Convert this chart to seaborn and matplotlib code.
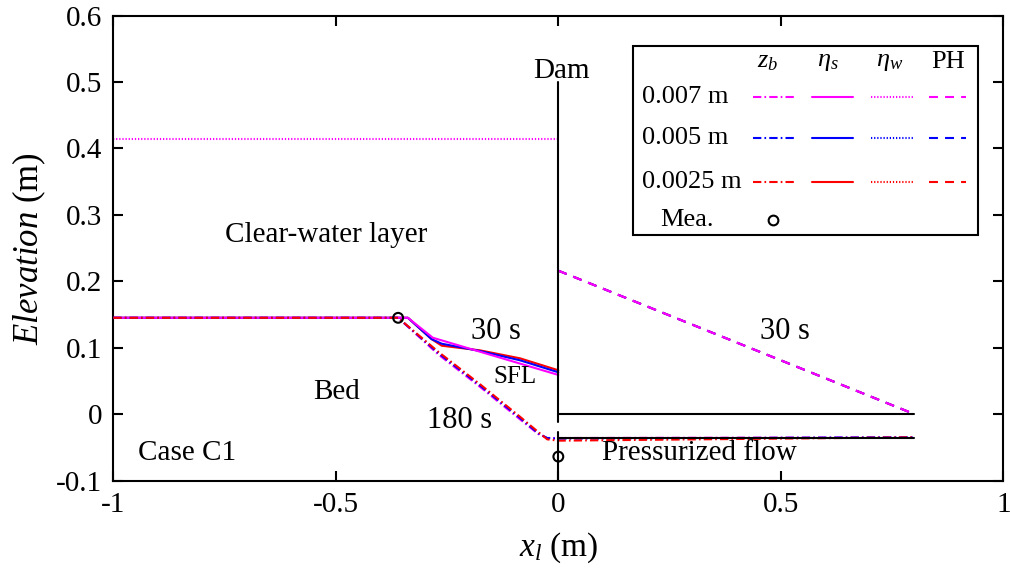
import numpy as np
import matplotlib
matplotlib.use("Agg")
import matplotlib.pyplot as plt
import seaborn as sns
from matplotlib.patches import Rectangle

# --- data (Case C1) ---
# free surface of the clear-water layer upstream
x_w = [-1.0, 0.0]
eta_w = [0.415, 0.415]

# bed z_b (180 s), one per particle size
x_zb = [-1.0, -0.36, -0.27, -0.176, -0.086, -0.045, -0.025, 0.0, 0.8]
zb_007 = [0.145, 0.145, 0.090, 0.041, -0.008, -0.030, -0.036, -0.036, -0.035]
zb_005 = [0.145, 0.145, 0.092, 0.043, -0.006, -0.029, -0.036, -0.037, -0.035]
zb_0025 = [0.145, 0.145, 0.094, 0.045, -0.004, -0.027, -0.038, -0.040, -0.035]

# sediment feeding layer surface eta_s (30 s)
x_s_007 = [-1.0, -0.338, -0.282, 0.0]
es_007 = [0.145, 0.145, 0.115, 0.059]
x_s = [-1.0, -0.338, -0.285, -0.262, -0.176, -0.086, 0.0]
es_005 = [0.145, 0.145, 0.113, 0.106, 0.095, 0.081, 0.063]
es_0025 = [0.145, 0.145, 0.113, 0.103, 0.096, 0.084, 0.066]

# piezometric head in the pressurized outlet
x_ph = [0.0, 0.8]
ph = [0.216, 0.0]

# dam and outlet geometry
dam_x = [0.0, 0.0]
dam_y = [0.5, -0.012]
dam_low_y = [-0.027, -0.1]
roof_x = [0.0, 0.8]
roof_y = [0.0, 0.0]
floor_y = [-0.036, -0.036]

# measurements
mea_x = [-0.36, 0.0]
mea_y = [0.145, -0.064]

sizes = ["0.007 m", "0.005 m", "0.0025 m"]
colors = ["#ff00ff", "#0000ff", "#ff0000"]

sns.set_theme(style="ticks")
plt.rcParams["font.family"] = ["Liberation Serif", "DejaVu Serif"]
plt.rcParams["mathtext.fontset"] = "custom"
plt.rcParams["mathtext.rm"] = "Liberation Serif"
plt.rcParams["mathtext.it"] = "Liberation Serif:italic"
for k in ["text.color", "axes.labelcolor", "xtick.color", "ytick.color", "axes.edgecolor"]:
    plt.rcParams[k] = "black"

LW = 1.5
ls_zb = (0, (4, 1.5, 0.8, 1.5))
ls_es = "-"
ls_ew = (0, (0.6, 0.9))
ls_ph = (0, (4.3, 3.4))

fig = plt.figure(figsize=(10.1, 5.83), dpi=100)
ax = fig.add_axes([0.1122, 0.1758, 0.8812, 0.7973])


def line(x, y, c, ls, z=2):
    sns.lineplot(x=x, y=y, ax=ax, color=c, linewidth=LW, linestyle=ls,
                 estimator=None, sort=False, zorder=z)


# eta_s
line(x_s, es_0025, colors[2], ls_es)
line(x_s, es_005, colors[1], ls_es)
line(x_s_007, es_007, colors[0], ls_es)
# z_b
line(x_zb, zb_007, colors[0], ls_zb, 3)
line(x_zb, zb_005, colors[1], ls_zb, 3)
line(x_zb, zb_0025, colors[2], ls_zb, 3)
# eta_w
line(x_w, eta_w, colors[0], ls_ew)
# PH
line(x_ph, ph, colors[2], ls_ph)
line(x_ph, ph, colors[1], ls_ph)
line(x_ph, ph, colors[0], ls_ph)

# structure
for xs, ys in [(dam_x, dam_y), (dam_x, dam_low_y), (roof_x, roof_y), (roof_x, floor_y)]:
    ax.plot(xs, ys, color="black", lw=LW, zorder=4)

sns.scatterplot(x=mea_x, y=mea_y, ax=ax, marker="o", s=50, facecolors="none",
                edgecolors="black", linewidth=1.5, zorder=5)

ax.set_xlim(-1, 1)
ax.set_ylim(-0.1, 0.6)
ax.set_xticks([-1, -0.5, 0, 0.5, 1])
ax.set_xticklabels(["-1", "-0.5", "0", "0.5", "1"])
ax.set_yticks(np.arange(-0.1, 0.61, 0.1))
ax.set_yticklabels(["-0.1", "0", "0.1", "0.2", "0.3", "0.4", "0.5", "0.6"])
ax.tick_params(direction="in", length=7, width=1.5, labelsize=21,
               top=True, right=True, pad=8, colors="black")
for sp in ax.spines.values():
    sp.set_linewidth(1.5)
    sp.set_color("black")
    sp.set_visible(True)

ax.set_xlabel(r"$x_l$ (m)", fontsize=24, labelpad=9)
ax.set_ylabel(r"$\mathit{Elevation}$ (m)", fontsize=25, labelpad=6)

# annotations
fs = 21
ax.text(0.006, 0.517, "Dam", fontsize=fs, ha="center", va="center")
ax.text(-0.521, 0.270, "Clear-water layer", fontsize=fs, ha="center", va="center")
ax.text(-0.140, 0.124, "30 s", fontsize=22, ha="center", va="center")
ax.text(-0.098, 0.056, "SFL", fontsize=18, ha="center", va="center")
ax.text(-0.221, -0.009, "180 s", fontsize=22, ha="center", va="center")
ax.text(-0.498, 0.034, "Bed", fontsize=fs, ha="center", va="center")
ax.text(-0.834, -0.059, "Case C1", fontsize=fs, ha="center", va="center")
ax.text(0.318, -0.059, "Pressurized flow", fontsize=fs, ha="center", va="center")
ax.text(0.510, 0.124, "30 s", fontsize=22, ha="center", va="center")

# gnuplot-style legend table
T = ax.transAxes
ax.add_patch(Rectangle((0.5836, 0.5282), 0.9716 - 0.5836, 0.9348 - 0.5282,
                       transform=T, fill=True, facecolor="white",
                       edgecolor="black", lw=1.5, zorder=6))
lfs = 19
heads = [r"$z_b$", r"$\eta_s$", r"$\eta_w$", "PH"]
head_x = [0.7356, 0.8030, 0.8727, 0.9379]
seg = [(0.7187, 0.7659), (0.7851, 0.8311), (0.8513, 0.8985), (0.9164, 0.9580)]
styles = [ls_zb, ls_es, ls_ew, ls_ph]
row_y = [0.8257, 0.7362, 0.6429]
for h, hx in zip(heads, head_x):
    ax.text(hx, 0.900, h, transform=T, fontsize=lfs, ha="center", va="center", zorder=7)
for lab, c, ry in zip(sizes, colors, row_y):
    ax.text(0.594, ry, lab, transform=T, fontsize=lfs, ha="left", va="center", zorder=7)
    for (x0, x1), st in zip(seg, styles):
        ax.plot([x0, x1], [ry, ry], transform=T, color=c, lw=LW, ls=st, zorder=7)
ax.text(0.615, 0.5605, "Mea.", transform=T, fontsize=lfs, ha="left", va="center", zorder=7)
ax.plot([0.7409], [0.5605], transform=T, marker="o", ms=7, mfc="none",
        mec="black", mew=1.5, ls="none", zorder=7)

fig.savefig("out.png", dpi=100)
